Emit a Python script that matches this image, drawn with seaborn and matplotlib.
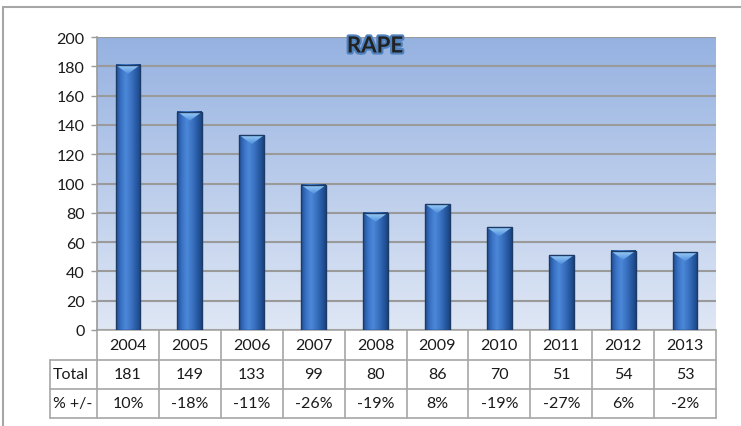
import matplotlib
matplotlib.use("Agg")
import matplotlib.pyplot as plt
import matplotlib.patheffects as pe
from matplotlib.colors import LinearSegmentedColormap
from matplotlib.lines import Line2D
from matplotlib.patches import Polygon
import numpy as np
import pandas as pd
import seaborn as sns

years = ["2004", "2005", "2006", "2007", "2008", "2009", "2010", "2011", "2012", "2013"]
totals = [181, 149, 133, 99, 80, 86, 70, 51, 54, 53]
changes = ["10%", "-18%", "-11%", "-26%", "-19%", "8%", "-19%", "-27%", "6%", "-2%"]
row_labels = ["Total", "% +/-"]
title = "RAPE"

sns.set_style("white")
plt.rcParams["font.family"] = ["Lato", "DejaVu Sans"]

W, H = 741, 427
fig = plt.figure(figsize=(W / 100, H / 100), dpi=100)
ax = fig.add_axes([97 / W, (H - 331) / H, 619 / W, 293 / H])

df = pd.DataFrame({"year": years, "total": totals})
sns.barplot(data=df, x="year", y="total", width=0.4, color="#3f74c4", ax=ax)

ymax = 200
xlim = (-0.5, len(years) - 0.5)

# plot area gradient
bg = LinearSegmentedColormap.from_list("bg", ["#dfe7f5", "#96b2e1"])
ax.imshow(np.linspace(0, 1, 256).reshape(-1, 1), cmap=bg, origin="lower",
          extent=[xlim[0], xlim[1], 0, ymax], aspect="auto", zorder=0)

# shaded bars with bevelled top
bar_cmap = LinearSegmentedColormap.from_list(
    "bar", ["#1f4f93", "#3a72c6", "#4c88d8", "#3d74c4", "#2a5da8", "#1a447f"])
top_cmap = LinearSegmentedColormap.from_list("top", ["#4f8fdc", "#9ccdf7"])
grad = np.linspace(0, 1, 64).reshape(1, -1)
depth = 9 / 293 * ymax
for p in ax.patches:
    x0, w, h = p.get_x(), p.get_width(), p.get_height()
    ax.imshow(grad, cmap=bar_cmap, extent=[x0, x0 + w, 0, h],
              aspect="auto", zorder=3)
    tri = Polygon([[x0, h], [x0 + w, h], [x0 + w / 2, h - depth]],
                  closed=True, facecolor="none", edgecolor="none", zorder=4)
    ax.add_patch(tri)
    im = ax.imshow(np.linspace(0, 1, 64).reshape(-1, 1), cmap=top_cmap,
                   origin="lower", extent=[x0, x0 + w, h - depth, h],
                   aspect="auto", zorder=4)
    im.set_clip_path(tri)
    p.set_facecolor("none")
    p.set_edgecolor("#1c3a66")
    p.set_linewidth(1.0)
    p.set_zorder(5)

ax.set_xlim(xlim)
ax.set_ylim(0, ymax)
ax.set_yticks(range(0, ymax + 1, 20))
ax.set_axisbelow(True)
ax.yaxis.grid(True, color="#9a9a9a", linewidth=1.5)
ax.xaxis.grid(False)
ax.tick_params(axis="y", length=4, width=1, color="#9a9a9a", labelsize=11.5,
               labelcolor="#1a1a1a", pad=5, left=True)
ax.tick_params(axis="x", bottom=False, labelbottom=False)
ax.set_xlabel("")
ax.set_ylabel("")
for side in ["top", "right", "bottom"]:
    ax.spines[side].set_visible(False)
ax.spines["left"].set_color("#9a9a9a")
ax.spines["left"].set_linewidth(1.2)

# data table under the plot
tr_data = ax.get_xaxis_transform()
tr_axes = ax.transAxes
line_kw = dict(color="#a6a6a6", linewidth=1.2, clip_on=False)
row_h = [30 / 293, 29 / 293, 29 / 293]
bounds = [0, -row_h[0], -row_h[0] - row_h[1], -sum(row_h)]
left_col = (50 - 97) / 619

for i, b in enumerate(bounds):
    x_start = 0 if i == 0 else left_col
    ax.add_line(Line2D([x_start, 1], [b, b], transform=tr_axes, **line_kw))
for k in range(len(years) + 1):
    ax.add_line(Line2D([k - 0.5, k - 0.5], [bounds[0], bounds[-1]],
                       transform=tr_data, **line_kw))
ax.add_line(Line2D([left_col, left_col], [bounds[1], bounds[-1]],
                   transform=tr_axes, **line_kw))

rows = [years, [str(t) for t in totals], changes]
for r, values in enumerate(rows):
    yc = (bounds[r] + bounds[r + 1]) / 2
    for k, v in enumerate(values):
        ax.text(k, yc, v, transform=tr_data, ha="center", va="center",
                fontsize=11.5, color="#1a1a1a", clip_on=False)
    if r > 0:
        ax.text(left_col + 0.005, yc, row_labels[r - 1], transform=tr_axes,
                ha="left", va="center", fontsize=11.5, color="#1a1a1a",
                clip_on=False)

# title
fig.text(375 / W, 1 - 47 / H, title, ha="center", va="center", fontsize=16,
         fontweight="bold", color="#222222",
         path_effects=[pe.withStroke(linewidth=3, foreground="#4f81bd")])

# outer chart frame (cropped at right and bottom)
fig.add_artist(Line2D([3 / W, 1], [1 - 8 / H, 1 - 8 / H],
                      transform=fig.transFigure, color="#a6a6a6", linewidth=1.5))
fig.add_artist(Line2D([3 / W, 3 / W], [0, 1 - 8 / H],
                      transform=fig.transFigure, color="#a6a6a6", linewidth=1.5))

fig.savefig("out.png", dpi=100)
plt.close(fig)
